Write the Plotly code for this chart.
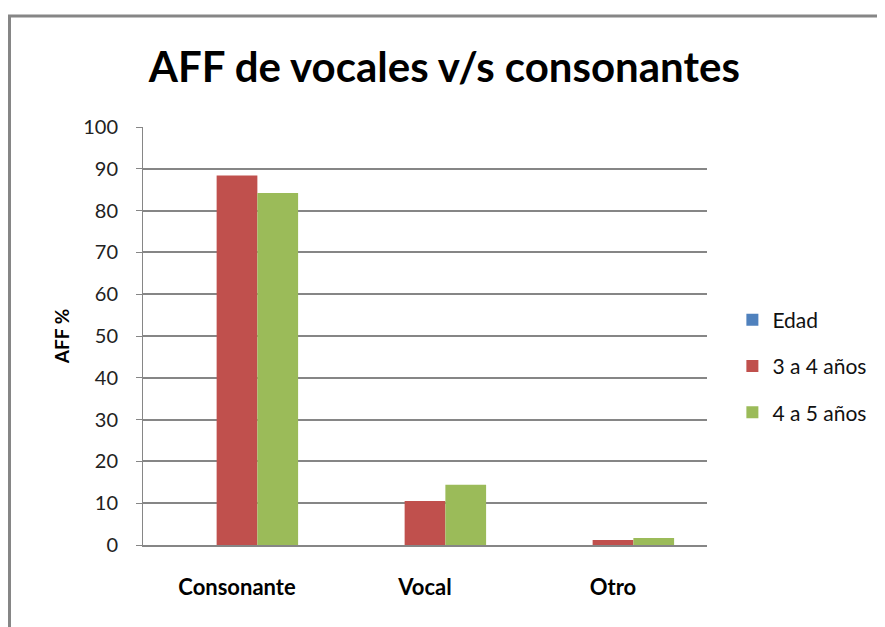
import plotly.graph_objects as go

categories = ["Consonante", "Vocal", "Otro"]
series_names = ["Edad", "3 a 4 años", "4 a 5 años"]
edad = [0, 0, 0]
edad_3_4 = [88.4, 10.5, 1.2]
edad_4_5 = [84.2, 14.4, 1.7]
y_ticks = list(range(0, 101, 10))

colors = ["#4F81BD", "#C0504D", "#9BBB59"]
grid_color = "#868686"
font_family = "Lato"

fig = go.Figure()
for i, (name, vals) in enumerate(zip(series_names, [edad, edad_3_4, edad_4_5])):
    fig.add_trace(
        go.Bar(
            x=categories,
            y=vals,
            name=name,
            legendgroup=name,
            marker=dict(color=colors[i], line=dict(width=0)),
        )
    )

# the page body has an 8px margin, so offsets are taken from that
fig.update_layout(
    width=885,
    height=627,
    margin=dict(l=135, r=186, t=119, b=90),
    plot_bgcolor="white",
    paper_bgcolor="white",
    font=dict(family=font_family, color="#111111", size=20),
    barmode="group",
    bargap=0.35,
    bargroupgap=0,
    title=dict(
        text="<b>AFF de vocales v/s consonantes</b>",
        font=dict(size=42, color="black", family=font_family),
        x=0.493,
        xanchor="center",
        y=0.905,
        yanchor="middle",
    ),
    legend=dict(
        x=1.045,
        xanchor="left",
        y=0.428,
        yanchor="middle",
        font=dict(size=21, color="#111111"),
        tracegroupgap=16,
        traceorder="grouped",
    ),
    showlegend=True,
)

fig.update_xaxes(
    showline=True,
    linecolor=grid_color,
    linewidth=1.5,
    ticks="",
    ticklabelstandoff=22,
    tickfont=dict(size=22, color="black", family=font_family, weight="bold"),
)
fig.update_yaxes(
    range=[0, 100],
    tickvals=y_ticks,
    showgrid=True,
    gridcolor=grid_color,
    gridwidth=1.5,
    showline=True,
    linecolor=grid_color,
    linewidth=1,
    ticks="outside",
    ticklen=6,
    tickcolor=grid_color,
    ticklabelstandoff=14,
    tickfont=dict(size=20, color="#222222"),
    zeroline=False,
    title=dict(
        text="<b>AFF %</b>",
        font=dict(size=19, color="black", family=font_family),
        standoff=8,
    ),
)

# outer chart frame (extends past the window on the right and bottom)
fig.add_shape(
    type="rect",
    xref="paper",
    yref="paper",
    x0=(1.5 - 135) / 564,
    x1=(900 - 135) / 564,
    y0=(537 - 640) / 418,
    y1=(537 - 8) / 418,
    line=dict(color=grid_color, width=3),
    fillcolor="rgba(0,0,0,0)",
    layer="below",
)

fig.write_html("out.html")
